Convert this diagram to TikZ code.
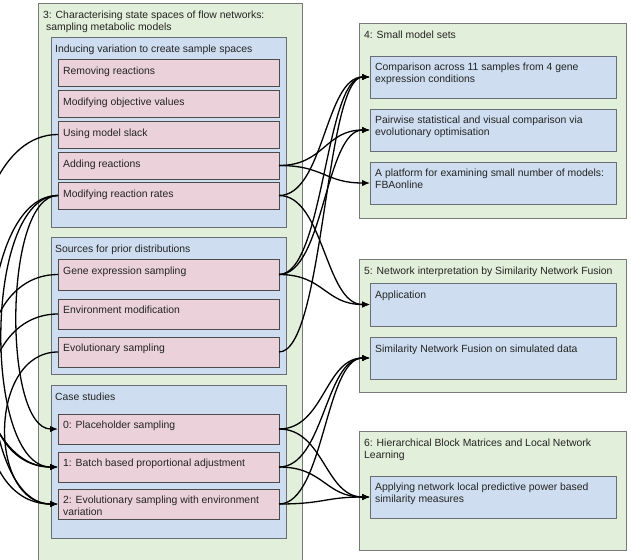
\documentclass[tikz,border=0pt]{standalone}
\usepackage{fontspec}
\setmainfont{Liberation Sans}
\usetikzlibrary{arrows.meta}
\definecolor{gfill}{RGB}{226,239,218}
\definecolor{gline}{RGB}{120,120,120}
\definecolor{bfill}{RGB}{206,222,240}
\definecolor{bline}{RGB}{105,110,118}
\definecolor{pfill}{RGB}{235,210,218}
\definecolor{pline}{RGB}{75,75,75}
\definecolor{tcol}{RGB}{35,35,35}
\begin{document}
\begin{tikzpicture}[x=1pt,y=-1pt,
  box/.style={draw, anchor=north west, inner sep=0pt, outer sep=0pt, line width=0.8pt},
  gbox/.style={box, fill=gfill, draw=gline},
  bbox/.style={box, fill=bfill, draw=bline},
  pbox/.style={box, fill=pfill, draw=pline, minimum width=221pt},
  rbox/.style={box, fill=bfill, draw=bline, minimum width=246pt},
  txt/.style={anchor=base west, inner sep=0pt, font=\fontsize{10.4}{12}\selectfont, align=left, text=tcol},
  conn/.style={line width=1.3pt, -{Latex[length=8pt,width=6.5pt]}}
]
\useasboundingbox (0,0) rectangle (631,559);
% group 3
\node[gbox, minimum width=264pt, minimum height=570pt] (g3) at (38,3) {};
\node[txt] (g3t) at (43,30.5) {3: Characterising state spaces of flow networks:\\\hspace{3pt}sampling metabolic models};
\node[bbox, minimum width=235pt, minimum height=190pt] (b1) at (51,37) {};
\node[txt] (b1t) at (55,52.5) {Inducing variation to create sample spaces};
\node[pbox, minimum height=27pt] (rem) at (58,59) {};
\node[txt] (remt) at (63,74.5) {Removing reactions};
\node[pbox, minimum height=27pt] (obj) at (58,90) {};
\node[txt] (objt) at (63,105.5) {Modifying objective values};
\node[pbox, minimum height=27pt] (slack) at (58,121) {};
\node[txt] (slackt) at (63,136.5) {Using model slack};
\node[pbox, minimum height=27pt] (add) at (58,152) {};
\node[txt] (addt) at (63,167.5) {Adding reactions};
\node[pbox, minimum height=27pt] (rates) at (58,182) {};
\node[txt] (ratest) at (63,197.5) {Modifying reaction rates};
\node[bbox, minimum width=235pt, minimum height=137pt] (b2) at (51,237) {};
\node[txt] (b2t) at (55,252.5) {Sources for prior distributions};
\node[pbox, minimum height=31pt] (gene) at (58,259) {};
\node[txt] (genet) at (63,274.5) {Gene expression sampling};
\node[pbox, minimum height=30pt] (env) at (58,299) {};
\node[txt] (envt) at (63,313.5) {Environment modification};
\node[pbox, minimum height=30pt] (evol) at (58,337) {};
\node[txt] (evolt) at (63,351.5) {Evolutionary sampling};
\node[bbox, minimum width=235pt, minimum height=153pt] (b3) at (51,385) {};
\node[txt] (b3t) at (55,400) {Case studies};
\node[pbox, minimum height=30pt] (c0) at (58,414) {};
\node[txt] (c0t) at (63,428.5) {0: Placeholder sampling};
\node[pbox, minimum height=30pt] (c1) at (58,452) {};
\node[txt] (c1t) at (63,466.5) {1: Batch based proportional adjustment};
\node[pbox, minimum height=30pt] (c2) at (58,489) {};
\node[txt] (c2t) at (63,515.5) {2: Evolutionary sampling with environment\\variation};
% group 4
\node[gbox, minimum width=267pt, minimum height=195pt] (g4) at (359,23) {};
\node[txt] (g4t) at (364,38.5) {4: Small model sets};
\node[rbox, minimum height=42pt] (comp) at (370,56) {};
\node[txt] (compt) at (375,82.5) {Comparison across 11 samples from 4 gene\\expression conditions};
\node[rbox, minimum height=42pt] (pair) at (370,109) {};
\node[txt] (pairt) at (375,135.5) {Pairwise statistical and visual comparison via\\evolutionary optimisation};
\node[rbox, minimum height=42pt] (fba) at (370,162) {};
\node[txt] (fbat) at (375,188.5) {A platform for examining small number of models:\\FBAonline};
% group 5
\node[gbox, minimum width=267pt, minimum height=133pt] (g5) at (359,259) {};
\node[txt] (g5t) at (364,274.5) {5: Network interpretation by Similarity Network Fusion};
\node[rbox, minimum height=43pt] (app) at (370,283) {};
\node[txt] (appt) at (375,298) {Application};
\node[rbox, minimum height=42pt] (snf) at (370,337) {};
\node[txt] (snft) at (375,352) {Similarity Network Fusion on simulated data};
% group 6
\node[gbox, minimum width=267pt, minimum height=119pt] (g6) at (359,431) {};
\node[txt] (g6t) at (364,458.5) {6: Hierarchical Block Matrices and Local Network\\Learning};
\node[rbox, minimum height=42pt] (apl) at (370,476) {};
\node[txt] (aplt) at (375,502.5) {Applying network local predictive power based\\similarity measures};
% right connectors
\draw[conn] (add.east) .. controls +(45,0) and +(-45,0) .. (pair.west);
\draw[conn] (add.east) .. controls +(45,0) and +(-45,0) .. (fba.west);
\draw[conn] (rates.east) .. controls +(45,0) and +(-45,0) .. (comp.west);
\draw[conn] (rates.east) .. controls +(45,0) and +(-45,0) .. (app.west);
\draw[conn] (gene.east) .. controls +(45,0) and +(-45,0) .. (comp.west);
\draw[conn] (gene.east) .. controls +(45,0) and +(-45,0) .. (pair.west);
\draw[conn] (gene.east) .. controls +(45,0) and +(-45,0) .. (app.west);
\draw[conn] (evol.east) .. controls +(45,0) and +(-45,0) .. (comp.west);
\draw[conn] (c0.east) .. controls +(45,0) and +(-45,0) .. (snf.west);
\draw[conn] (c0.east) .. controls +(45,0) and +(-45,0) .. (apl.west);
\draw[conn] (c1.east) .. controls +(45,0) and +(-45,0) .. (snf.west);
\draw[conn] (c1.east) .. controls +(45,0) and +(-45,0) .. (apl.west);
\draw[conn] (c2.east) .. controls +(45,0) and +(-45,0) .. (snf.west);
\draw[conn] (c2.east) .. controls +(45,0) and +(-45,0) .. (apl.west);
% left connectors
\draw[conn] (slack.west) .. controls +(-115,0) and +(-115,0) .. (c1.west);
\draw[conn] (rates.west) .. controls +(-55,0) and +(-55,0) .. (c0.west);
\draw[conn] (rates.west) .. controls +(-75,0) and +(-75,0) .. (c1.west);
\draw[conn] (rates.west) .. controls +(-90,0) and +(-90,0) .. (c2.west);
\draw[conn] (gene.west) .. controls +(-95,0) and +(-95,0) .. (c1.west);
\draw[conn] (env.west) .. controls +(-95,0) and +(-95,0) .. (c2.west);
\draw[conn] (evol.west) .. controls +(-70,0) and +(-70,0) .. (c2.west);
\end{tikzpicture}
\end{document}
